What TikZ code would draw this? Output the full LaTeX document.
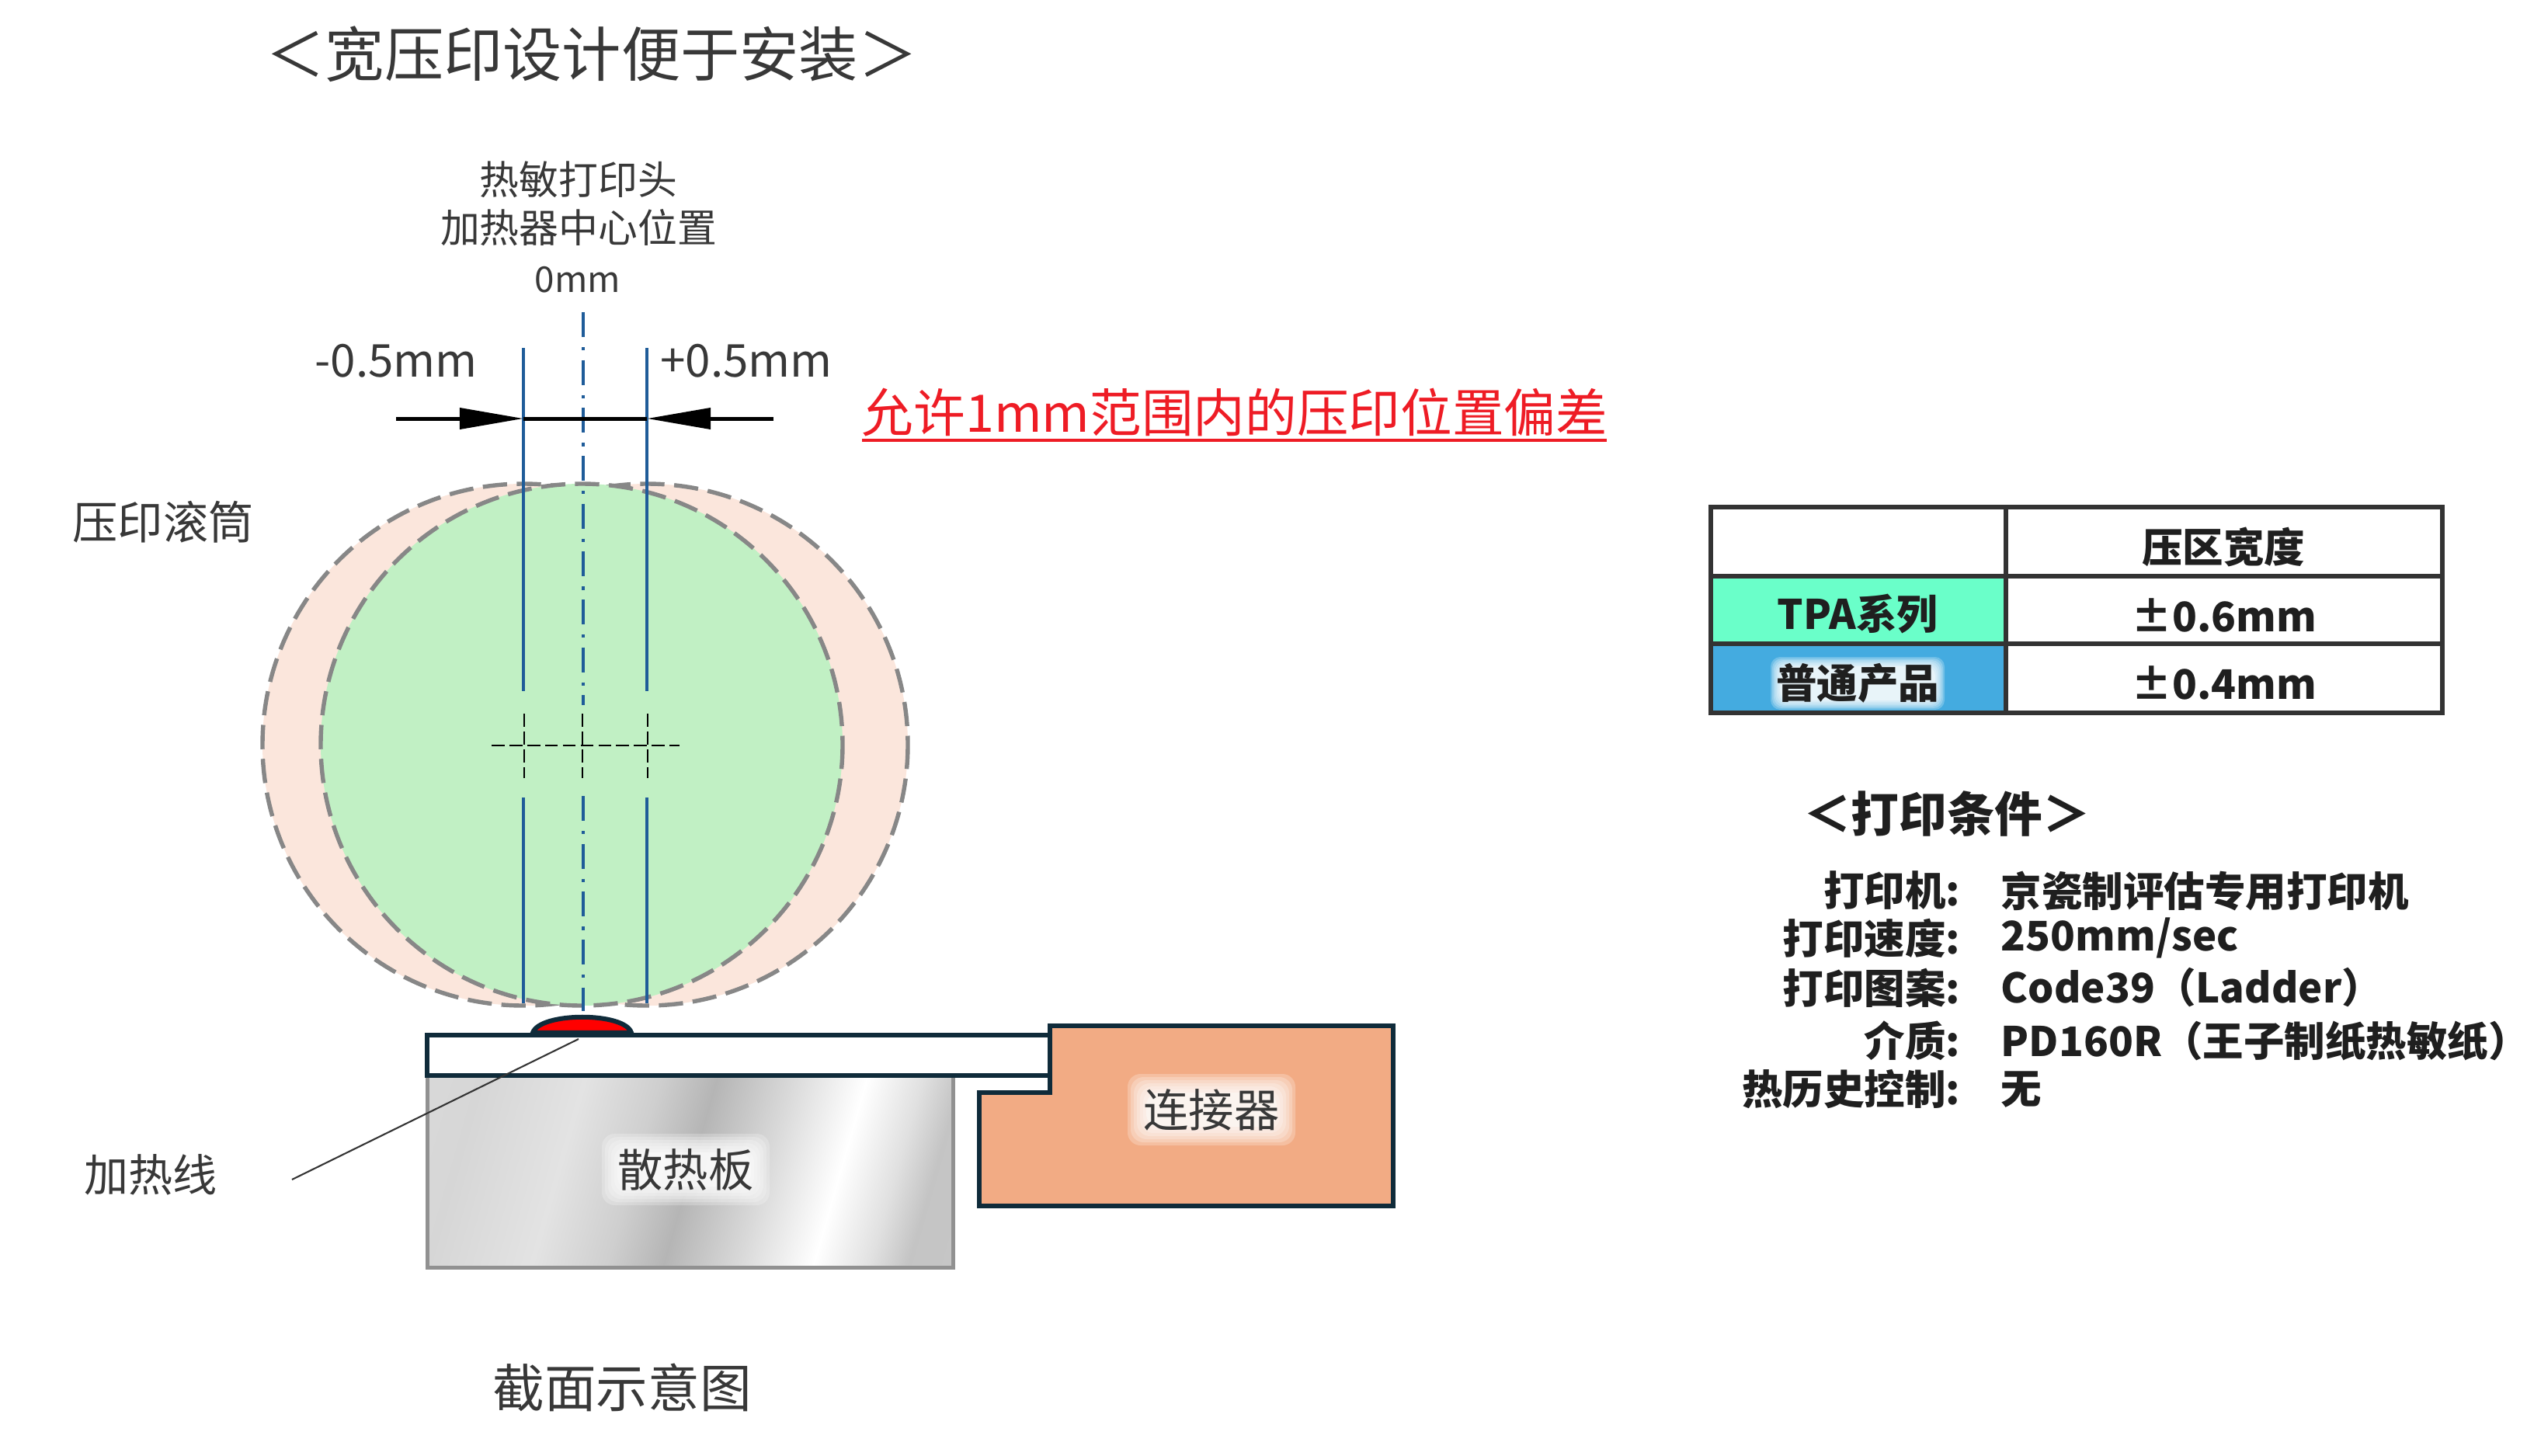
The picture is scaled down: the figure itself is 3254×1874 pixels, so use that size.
\documentclass[tikz,border=0pt]{standalone}
\usepackage{fontspec}
\setmainfont{Noto Sans CJK SC}
\usetikzlibrary{
  arrows.meta,
}
\definecolor{rollergreen}{HTML}{C1F0C4}
\definecolor{rollerpeach}{HTML}{FBE6DC}
\definecolor{centerblue}{HTML}{1F5C99}
\definecolor{headdark}{HTML}{0F2B3A}
\definecolor{connpeach}{HTML}{F2AB84}
\definecolor{tpagreen}{HTML}{6AFFC9}
\definecolor{normalblue}{HTML}{44ABE0}
\definecolor{warnred}{HTML}{EE1C25}
\pgfdeclarehorizontalshading{metal}{100bp}{
  color(0bp)=(black!12);
  color(25bp)=(black!16);
  color(36bp)=(black!11);
  color(44bp)=(black!19);
  color(50bp)=(black!29);
  color(58bp)=(black!15);
  color(66bp)=(white);
  color(72bp)=(black!12);
  color(76bp)=(black!23);
  color(100bp)=(black!20)
}
\begin{document}
\begin{tikzpicture}[
  x=.24pt, y=-.24pt,
  thinlabel/.style={inner sep=0pt, text=black!78},
  boldlabel/.style={inner sep=0pt, font=\fontsize{12.6}{15}\selectfont\bfseries, text=black!88},
  roller/.style={draw=black!47, line width=1.3pt, dash pattern=on 7.5pt off 3pt},
  offsetline/.style={draw=centerblue, line width=.95pt},
  centerline/.style={draw=centerblue, line width=.95pt, dash pattern=on 7.7pt off 3.1pt on 1pt off 3pt},
  crossline/.style={draw=black, line width=.6pt, dash pattern=on 4pt off 1.5pt},
  dimarrow/.style={draw=black, line width=1.2pt, -{Triangle[length=19.7pt,width=6.4pt]}},
  darkpart/.style={draw=headdark, line width=1.45pt},
  tableline/.style={draw=black!80, line width=1.25pt},
]
\useasboundingbox (0,0) rectangle (3254,1874);

\node[thinlabel, font=\fontsize{18.3}{22}\selectfont] (title) at (762,70) {＜宽压印设计便于安装＞};
\node[thinlabel, font=\fontsize{12.2}{14.9}\selectfont, align=center] (heaterlabel) at (745,262) {热敏打印头\\加热器中心位置};
\node[thinlabel, font=\fontsize{11}{14}\selectfont] (zerolabel) at (744,360) {0mm};
\node[thinlabel, font=\fontsize{14}{17}\selectfont] (minuslabel) at (510,465) {-0.5mm};
\node[thinlabel, font=\fontsize{14}{17}\selectfont] (pluslabel) at (961,465) {+0.5mm};
\node[inner sep=0pt, text=warnred, font=\fontsize{16}{19}\selectfont] (toltext) at (1590,531) {允许1mm范围内的压印位置偏差};
\coordinate (tolL) at (1110,567);
\coordinate (tolR) at (2069,567);
\draw[warnred, line width=.8pt] (tolL) -- (tolR);
\node[thinlabel, font=\fontsize{14}{17}\selectfont] (rollerlabel) at (210,672) {压印滚筒};
\node[thinlabel, font=\fontsize{13.7}{17}\selectfont] (wirelabel) at (194,1513) {加热线};
\node[thinlabel, font=\fontsize{16}{19}\selectfont] (crosslabel) at (801,1787) {截面示意图};

\foreach \cx in {674,833} {
  \draw[roller, fill=rollerpeach] (\cx,959) circle[radius=336];
}
\draw[roller, fill=rollergreen] (749,959) circle[radius=336];

\foreach \lx in {674,833} {
  \draw[offsetline] (\lx,448) -- (\lx,890);
  \draw[offsetline] (\lx,1027) -- (\lx,1292);
}
\draw[centerline] (751,402) -- (751,908);
\draw[centerline] (751,1025) -- (751,1302);

\draw[crossline] (633,960) -- (875,960);
\foreach \lx in {675,750,834} {
  \draw[crossline] (\lx,919) -- (\lx,1002);
}

\coordinate (arrowL) at (510,539);
\coordinate (tipL) at (674,539);
\coordinate (tipR) at (833,539);
\coordinate (arrowR) at (996,539);
\draw[dimarrow] (arrowL) -- (tipL);
\draw[dimarrow] (arrowR) -- (tipR);
\draw[draw=black, line width=1.2pt] (tipL) -- (tipR);

\shade[shading=metal, shading angle=-16] (550,1388) rectangle (1227,1632);
\draw[draw=black!43, line width=1.2pt] (550,1388) -- (550,1632) -- (1227,1632) -- (1227,1388);
\draw[darkpart, fill=red] (686,1330) .. controls (695,1303) and (805,1303) .. (813,1330) -- cycle;
\draw[darkpart, fill=white] (550,1333) rectangle (1352,1385);
\draw[darkpart, fill=connpeach] (1352,1321) -- (1794,1321) -- (1794,1553) -- (1261,1553) -- (1261,1407) -- (1352,1407) -- cycle;

\foreach \hx/\hy/\hw/\hh/\hs in {883/1506/84/22/1, 1560/1429/84/22/1} {
  \foreach \g in {24,20,16,12,8,4,0,0} {
    \fill[white, opacity=.24, rounded corners=4pt] (\hx-\hw-\hs*\g,\hy-\hh-\hs*\g) rectangle (\hx+\hw+\hs*\g,\hy+\hh+\hs*\g);
  }
}
\node[thinlabel, font=\fontsize{14}{17}\selectfont] (sinklabel) at (883,1506) {散热板};
\node[thinlabel, font=\fontsize{14}{17}\selectfont] (connlabel) at (1560,1429) {连接器};

\coordinate (wireA) at (745,1338);
\coordinate (wireB) at (376,1519);
\draw[black!80, line width=.5pt] (wireA) -- (wireB);

\fill[tpagreen] (2203,742) rectangle (2583,829);
\fill[normalblue] (2203,829) rectangle (2583,918);
\foreach \hx/\hy/\hw/\hh/\hs in {2392/880/100/22/.5} {
  \foreach \g in {24,20,16,12,8,4,0,0} {
    \fill[white, opacity=.24, rounded corners=3pt] (\hx-\hw-\hs*\g,\hy-\hh-\hs*\g) rectangle (\hx+\hw+\hs*\g,\hy+\hh+\hs*\g);
  }
}
\draw[tableline] (2203,653) rectangle (3145,918);
\foreach \ry in {742,829} {
  \draw[tableline] (2203,\ry) -- (3145,\ry);
}
\draw[tableline] (2583,653) -- (2583,918);

\node[boldlabel] (headwidth) at (2863,704) {压区宽度};
\node[boldlabel] (headtpa) at (2392,791) {TPA系列};
\node[boldlabel] (valtpa) at (2864,792) {±0.6mm};
\node[boldlabel] (headnormal) at (2392,880) {普通产品};
\node[boldlabel] (valnormal) at (2864,879) {±0.4mm};

\node[boldlabel, font=\fontsize{14.8}{18}\selectfont\bfseries] (condtitle) at (2507,1048) {＜打印条件＞};
\foreach \ry/\rkey/\rval in {
  1147/打印机:/京瓷制评估专用打印机,
  1208/打印速度:/250mm\slash sec,
  1272/打印图案:/Code39（Ladder）,
  1340/介质:/PD160R（王子制纸热敏纸）,
  1403/热历史控制:/无} {
  \node[boldlabel, anchor=east] (key\ry) at (2525,\ry) {\rkey};
  \node[boldlabel, anchor=west] (val\ry) at (2576,\ry) {\rval};
}
\end{tikzpicture}
\end{document}
